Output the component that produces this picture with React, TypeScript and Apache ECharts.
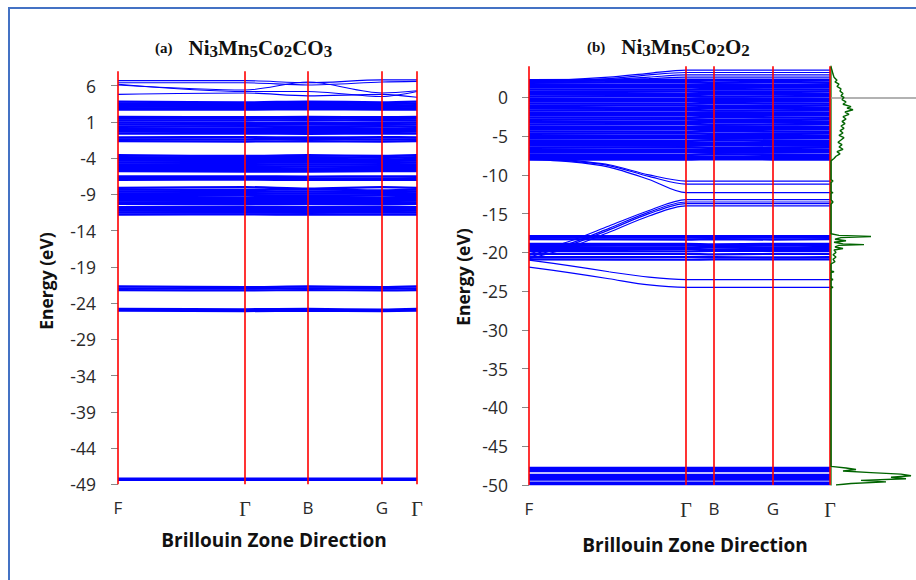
import React, { useEffect, useRef } from "react";
import * as echarts from "echarts";

// ---------- data ----------
const K_LABELS = ["F", "Γ", "B", "G", "Γ"];
const LEFT_K = [0, 127, 190, 264, 299];
const RIGHT_K = [0, 157, 185, 244, 301];
const RIGHT_K_FINE = [0, 40, 80, 120, 157, 185, 244, 301];
const LEFT_Y_TICKS = [-49, -44, -39, -34, -29, -24, -19, -14, -9, -4, 1, 6];
const RIGHT_Y_TICKS = [-50, -45, -40, -35, -30, -25, -20, -15, -10, -5, 0];
const LEFT_Y_RANGE = [-49, 8];
const RIGHT_Y_RANGE = [-50, 4];

// (a) Ni3Mn5Co2CO3 : energies at F, Γ, B, G, Γ
const leftUpperBands = [
  [6.7, 6.7, 6.4, 6.8, 6.8],
  [6.4, 6.4, 6.1, 6.5, 6.6],
  [6.1, 5.4, 6.5, 5.0, 5.3],
  [6.2, 5.2, 5.2, 4.5, 5.2],
  [4.8, 5.0, 4.6, 4.8, 4.4],
];
const leftValenceBands = [
  [3.8, 3.7, 3.8, 3.7, 3.8],
  [3.55, 3.5, 3.6, 3.45, 3.55],
  [3.3, 3.3, 3.35, 3.25, 3.3],
  [3.1, 3.05, 3.1, 3.05, 3.1],
  [2.9, 2.85, 2.9, 2.85, 2.9],
  [2.7, 2.7, 2.75, 2.7, 2.7],
  [1.7, 1.65, 1.7, 1.65, 1.7],
  [1.45, 1.45, 1.5, 1.4, 1.45],
  [1.2, 1.2, 1.25, 1.2, 1.2],
  [0.9, 0.85, 0.9, 0.85, 0.9],
  [0.65, 0.6, 0.65, 0.6, 0.65],
  [0.4, 0.4, 0.35, 0.4, 0.4],
  [0.15, 0.1, 0.15, 0.1, 0.15],
  [-0.1, -0.15, -0.1, -0.15, -0.1],
  [-0.35, -0.4, -0.35, -0.4, -0.35],
  [-0.6, -0.6, -0.65, -0.6, -0.6],
  [-1.15, -1.1, -1.15, -1.1, -1.15],
  [-1.4, -1.4, -1.35, -1.4, -1.4],
  [-1.65, -1.7, -1.65, -1.7, -1.65],
];
const leftMidBands = [
  [-3.6, -3.7, -3.6, -3.7, -3.6],
  [-3.85, -3.9, -3.85, -3.95, -3.85],
  [-4.1, -4.15, -4.1, -4.2, -4.1],
  [-4.35, -4.4, -4.35, -4.4, -4.35],
  [-4.6, -4.65, -4.6, -4.65, -4.6],
  [-4.85, -4.9, -4.85, -4.9, -4.85],
  [-5.1, -5.1, -5.15, -5.1, -5.1],
  [-5.35, -5.35, -5.4, -5.35, -5.35],
  [-5.6, -5.6, -5.65, -5.6, -5.6],
  [-5.8, -5.85, -5.85, -5.8, -5.8],
  [-6.5, -6.5, -6.55, -6.5, -6.5],
  [-6.75, -6.7, -6.75, -6.8, -6.75],
  [-7.0, -6.95, -7.0, -7.0, -7.0],
];
const leftLowBands = [
  [-8.1, -8.0, -8.2, -8.0, -8.1],
  [-8.35, -8.4, -8.3, -8.45, -8.35],
  [-8.6, -8.65, -8.6, -8.7, -8.6],
  [-8.85, -8.9, -8.85, -8.9, -8.85],
  [-9.1, -9.1, -9.15, -9.1, -9.1],
  [-9.35, -9.4, -9.35, -9.4, -9.35],
  [-9.6, -9.6, -9.65, -9.6, -9.6],
  [-9.85, -9.9, -9.85, -9.9, -9.85],
  [-10.1, -10.1, -10.15, -10.1, -10.1],
  [-10.3, -10.35, -10.3, -10.35, -10.3],
  [-10.75, -10.7, -10.75, -10.7, -10.75],
  [-11.0, -11.0, -11.05, -11.0, -11.0],
  [-11.25, -11.3, -11.25, -11.3, -11.25],
  [-11.5, -11.5, -11.55, -11.5, -11.5],
  [-11.8, -11.75, -11.8, -11.8, -11.8],
];
const leftDeepBands = [
  [-21.7, -21.8, -21.7, -21.8, -21.7],
  [-21.95, -22.0, -21.95, -22.0, -21.95],
  [-22.2, -22.25, -22.2, -22.25, -22.2],
  [-24.8, -24.85, -24.8, -24.9, -24.8],
  [-25.05, -25.1, -25.05, -25.1, -25.05],
  [-48.2, -48.2, -48.2, -48.2, -48.2],
  [-48.4, -48.4, -48.4, -48.4, -48.4],
];

// (b) Ni3Mn5Co2O2 : energies at F, Γ, B, G, Γ
const rightValenceBands = [
  [2.2, 2.25, 2.25, 2.25, 2.25],
  [1.9, 1.95, 1.9, 1.95, 1.9],
  [1.6, 1.6, 1.65, 1.6, 1.6],
  [1.3, 1.35, 1.3, 1.3, 1.35],
  [1.0, 1.0, 1.05, 1.0, 1.0],
  [0.7, 0.75, 0.7, 0.7, 0.75],
  [0.4, 0.4, 0.45, 0.4, 0.4],
  [0.1, 0.15, 0.1, 0.1, 0.15],
  [-0.2, -0.2, -0.15, -0.2, -0.2],
  [-0.5, -0.45, -0.5, -0.5, -0.45],
  [-0.8, -0.8, -0.75, -0.8, -0.8],
  [-1.1, -1.05, -1.1, -1.1, -1.05],
  [-1.4, -1.4, -1.35, -1.4, -1.4],
  [-1.7, -1.65, -1.7, -1.7, -1.65],
  [-2.0, -2.0, -1.95, -2.0, -2.0],
  [-2.3, -2.25, -2.3, -2.3, -2.25],
  [-2.6, -2.6, -2.55, -2.6, -2.6],
  [-2.9, -2.85, -2.9, -2.9, -2.85],
  [-3.2, -3.2, -3.15, -3.2, -3.2],
  [-3.5, -3.45, -3.5, -3.5, -3.45],
  [-3.8, -3.8, -3.75, -3.8, -3.8],
  [-4.1, -4.05, -4.1, -4.1, -4.05],
  [-4.4, -4.4, -4.35, -4.4, -4.4],
  [-4.7, -4.65, -4.7, -4.7, -4.65],
  [-5.0, -5.0, -4.95, -5.0, -5.0],
  [-5.3, -5.25, -5.3, -5.3, -5.25],
  [-5.6, -5.6, -5.55, -5.6, -5.6],
  [-5.9, -5.85, -5.9, -5.9, -5.85],
  [-6.2, -6.2, -6.15, -6.2, -6.2],
  [-6.5, -6.45, -6.5, -6.5, -6.45],
  [-6.8, -6.8, -6.75, -6.8, -6.8],
  [-7.1, -7.05, -7.1, -7.1, -7.05],
  [-7.4, -7.4, -7.35, -7.4, -7.4],
  [-7.7, -7.65, -7.7, -7.7, -7.65],
  [-8.0, -8.0, -7.95, -8.0, -8.0],
];
const rightMidBands = [
  [-17.9, -17.9, -17.9, -17.9, -17.9],
  [-18.1, -18.1, -18.1, -18.1, -18.1],
  [-18.3, -18.35, -18.3, -18.35, -18.3],
  [-18.9, -18.9, -18.95, -18.9, -18.9],
  [-19.1, -19.1, -19.1, -19.1, -19.1],
  [-19.3, -19.35, -19.3, -19.35, -19.3],
  [-19.55, -19.55, -19.6, -19.55, -19.55],
  [-19.8, -19.85, -19.8, -19.8, -19.8],
  [-20.2, -20.2, -20.25, -20.2, -20.2],
  [-20.6, -20.6, -20.6, -20.65, -20.6],
  [-20.9, -20.95, -20.9, -20.9, -20.9],
];
const rightCoreBands = [
  [-47.8, -47.8, -47.8, -47.8, -47.8],
  [-48.0, -48.0, -48.0, -48.0, -48.0],
  [-48.2, -48.2, -48.2, -48.2, -48.2],
  [-48.7, -48.7, -48.7, -48.7, -48.7],
  [-48.9, -48.9, -48.9, -48.9, -48.9],
  [-49.1, -49.1, -49.1, -49.1, -49.1],
  [-49.3, -49.3, -49.3, -49.3, -49.3],
  [-49.7, -49.7, -49.7, -49.7, -49.7],
  [-49.9, -49.9, -49.9, -49.9, -49.9],
];
// dispersive bands at the finer k grid
const rightDispersiveBands = [
  [2.2, 2.3, 2.6, 3.1, 3.5, 3.5, 3.5, 3.5],
  [2.1, 2.2, 2.4, 2.9, 3.2, 3.2, 3.2, 3.2],
  [2.0, 2.1, 2.3, 2.6, 2.9, 2.9, 2.9, 2.9],
  [1.9, 2.0, 2.2, 2.4, 2.6, 2.6, 2.6, 2.6],
  [-7.8, -8.1, -8.7, -10.0, -10.8, -10.8, -10.8, -10.8],
  [-7.9, -8.2, -8.8, -10.2, -11.2, -11.2, -11.2, -11.2],
  [-8.0, -8.3, -9.0, -10.6, -12.3, -12.3, -12.3, -12.3],
  [-20.2, -18.6, -16.6, -14.6, -13.2, -13.2, -13.2, -13.2],
  [-20.4, -18.9, -16.9, -14.8, -13.5, -13.5, -13.5, -13.5],
  [-20.6, -19.1, -17.1, -15.0, -13.7, -13.7, -13.7, -13.7],
  [-20.8, -19.4, -17.4, -15.3, -14.0, -14.0, -14.0, -14.0],
  [-21.0, -21.7, -22.5, -23.2, -23.5, -23.5, -23.5, -23.5],
  [-21.9, -22.6, -23.4, -24.2, -24.5, -24.5, -24.5, -24.5],
];

// density of states: [energy, DOS]
const dosCurve = [
  [3.9, 0], [3.5, 1], [3.0, 2], [2.6, 3], [2.2, 6], [2.0, 4], [1.7, 8], [1.4, 6],
  [1.1, 10], [0.8, 9], [0.5, 12], [0.2, 10], [0.0, 13], [-0.3, 11], [-0.6, 15],
  [-0.9, 12], [-1.2, 20], [-1.4, 16], [-1.6, 22], [-1.9, 14], [-2.2, 18], [-2.5, 12],
  [-2.8, 15], [-3.1, 11], [-3.4, 14], [-3.7, 10], [-4.0, 13], [-4.3, 9], [-4.6, 12],
  [-4.9, 8], [-5.2, 13], [-5.5, 10], [-5.8, 7], [-6.1, 11], [-6.4, 8], [-6.7, 12],
  [-7.0, 6], [-7.3, 9], [-7.6, 5], [-7.9, 3], [-8.2, 0],
  [-10.6, 0], [-10.8, 2], [-11.0, 0], [-12.2, 0], [-12.3, 2], [-12.4, 0],
  [-13.2, 0], [-13.5, 2], [-13.8, 0],
  [-17.6, 0], [-17.8, 8], [-17.95, 40], [-18.1, 10], [-18.3, 4], [-18.5, 15],
  [-18.7, 3], [-18.9, 12], [-19.0, 33], [-19.1, 8], [-19.3, 4], [-19.5, 12],
  [-19.7, 3], [-20.0, 5], [-20.3, 2], [-20.6, 5], [-20.9, 2], [-21.2, 4], [-21.5, 0],
  [-22.4, 0], [-22.5, 3], [-22.6, 0], [-23.4, 0], [-23.5, 2], [-23.6, 0],
  [-24.4, 0], [-24.5, 2], [-24.6, 0],
  [-47.6, 0], [-47.8, 15], [-48.0, 25], [-48.2, 12], [-48.4, 40], [-48.6, 70],
  [-48.8, 80], [-49.0, 60], [-49.2, 75], [-49.4, 30], [-49.6, 55], [-49.8, 20], [-50.0, 5],
];

// ---------- styles ----------
const SANS = '"Open Sans", "DejaVu Sans", sans-serif';
const SERIF = '"Liberation Serif", "DejaVu Serif", serif';
const BLUE = "#0000FF";
const RED = "#FF0000";

function bandSeries(rows: number[][], ks: number[], axis: number, width: number) {
  return rows.map((r) => ({
    type: "line",
    xAxisIndex: axis,
    yAxisIndex: axis,
    data: r.map((e, i) => [ks[i], e]),
    showSymbol: false,
    smooth: 0.3,
    silent: true,
    lineStyle: { color: BLUE, width },
    z: 2,
  }));
}

function redLines(ks: number[], axis: number, range: number[]) {
  return ks.map((k) => ({
    type: "line",
    xAxisIndex: axis,
    yAxisIndex: axis,
    data: [[k, range[0]], [k, range[1]]],
    showSymbol: false,
    silent: true,
    lineStyle: { color: RED, width: 1.6 },
    z: 3,
  }));
}

function kLabelFormatter(ks: number[]) {
  return (v: number) => {
    let idx = 0;
    let best = Infinity;
    ks.forEach((k, i) => {
      if (Math.abs(k - v) < best) {
        best = Math.abs(k - v);
        idx = i;
      }
    });
    const l = K_LABELS[idx];
    return l === "Γ" ? "{g|Γ}" : "{s|" + l + "}";
  };
}

const kRich = {
  s: { fontFamily: SANS, fontSize: 17, color: "#2a2a2a" },
  g: { fontFamily: SERIF, fontSize: 20, color: "#2a2a2a" },
};

function xBand(axis: number, ks: number[]) {
  return {
    gridIndex: axis,
    type: "value",
    min: 0,
    max: ks[ks.length - 1],
    axisLine: { show: false },
    axisTick: { show: false },
    splitLine: { show: false },
    axisLabel: {
      customValues: ks,
      formatter: kLabelFormatter(ks),
      margin: 15,
      rich: kRich,
    },
  };
}

function yBand(axis: number, range: number[], ticks: number[], margin: number) {
  return {
    gridIndex: axis,
    type: "value",
    min: range[0],
    max: range[1],
    axisLine: { show: false },
    axisTick: { show: true, customValues: ticks, length: 7, lineStyle: { color: "#888", width: 1 } },
    axisLabel: { customValues: ticks, margin, fontSize: 17.5, color: "#2a2a2a", fontFamily: SANS },
    splitLine: { show: false },
  };
}

const titleRich = {
  p: { fontFamily: SERIF, fontWeight: "bold", fontSize: 15, color: "#111", lineHeight: 24, verticalAlign: "middle", padding: [0, 16, 0, 0] },
  n: { fontFamily: SERIF, fontWeight: "bold", fontSize: 21, color: "#111", lineHeight: 24, verticalAlign: "middle" },
  s: { fontFamily: SERIF, fontWeight: "bold", fontSize: 17, color: "#111", lineHeight: 24, verticalAlign: "bottom" },
};

export default function App() {
  const ref = useRef<HTMLDivElement>(null);
  useEffect(() => {
    if (!ref.current) return;
    const chart = echarts.init(ref.current, undefined, { renderer: "svg" });
    const series: any[] = [
      ...bandSeries(leftUpperBands, LEFT_K, 0, 1.1),
      ...bandSeries(leftValenceBands, LEFT_K, 0, 2.3),
      ...bandSeries(leftMidBands, LEFT_K, 0, 2.3),
      ...bandSeries(leftLowBands, LEFT_K, 0, 2.3),
      ...bandSeries(leftDeepBands, LEFT_K, 0, 2.2),
      ...redLines(LEFT_K, 0, LEFT_Y_RANGE),
      ...bandSeries(rightValenceBands, RIGHT_K, 1, 2.6),
      ...bandSeries(rightMidBands, RIGHT_K, 1, 2.2),
      ...bandSeries(rightCoreBands, RIGHT_K, 1, 2.2),
      ...bandSeries(rightDispersiveBands, RIGHT_K_FINE, 1, 1.2),
      ...redLines(RIGHT_K, 1, RIGHT_Y_RANGE),
      {
        type: "line",
        xAxisIndex: 2,
        yAxisIndex: 2,
        data: dosCurve.map((p) => [p[1], p[0]]),
        showSymbol: false,
        silent: true,
        lineStyle: { color: "#006400", width: 1.4 },
        z: 4,
      },
    ];
    chart.setOption({
      animation: false,
      backgroundColor: "#ffffff",
      title: [
        {
          text: "{p|(a)}{n|Ni}{s|3}{n|Mn}{s|5}{n|Co}{s|2}{n|CO}{s|3}",
          left: 155,
          top: 36,
          padding: 0,
          textStyle: { rich: titleRich },
        },
        {
          text: "{p|(b)}{n|Ni}{s|3}{n|Mn}{s|5}{n|Co}{s|2}{n|O}{s|2}",
          left: 587,
          top: 35,
          padding: 0,
          textStyle: { rich: titleRich },
        },
      ],
      grid: [
        { left: 118, top: 71.2, width: 299, height: 413.1 },
        { left: 529, top: 66.3, width: 301, height: 418.7 },
        { left: 831, top: 66.3, width: 85, height: 418.7 },
      ],
      xAxis: [
        xBand(0, LEFT_K),
        xBand(1, RIGHT_K),
        {
          gridIndex: 2,
          type: "value",
          min: 0,
          max: 85,
          axisLine: { show: true, onZero: true, lineStyle: { color: "#999", width: 1.5 } },
          axisTick: { show: false },
          axisLabel: { show: false },
          splitLine: { show: false },
        },
      ],
      yAxis: [
        yBand(0, LEFT_Y_RANGE, LEFT_Y_TICKS, 22),
        yBand(1, RIGHT_Y_RANGE, RIGHT_Y_TICKS, 21),
        {
          gridIndex: 2,
          type: "value",
          min: RIGHT_Y_RANGE[0],
          max: RIGHT_Y_RANGE[1],
          axisLine: { show: true, lineStyle: { color: "#2E8B2E", width: 1.5 } },
          axisTick: { show: false },
          axisLabel: { show: false },
          splitLine: { show: false },
        },
      ],
      graphic: [
        {
          type: "rect",
          silent: true,
          z: 100,
          shape: { x: 9, y: 8, width: 1000, height: 1000 },
          style: { fill: "none", stroke: "#4472C4", lineWidth: 2 },
        },
        {
          type: "text",
          x: 46,
          y: 281,
          rotation: Math.PI / 2,
          style: { text: "Energy (eV)", font: `bold 17.5px ${SANS}`, fill: "#111", align: "center", verticalAlign: "middle" },
        },
        {
          type: "text",
          x: 463,
          y: 277,
          rotation: Math.PI / 2,
          style: { text: "Energy (eV)", font: `bold 17.5px ${SANS}`, fill: "#111", align: "center", verticalAlign: "middle" },
        },
        {
          type: "text",
          x: 274,
          y: 540,
          style: { text: "Brillouin Zone Direction", font: `bold 19px ${SANS}`, fill: "#111", align: "center", verticalAlign: "middle" },
        },
        {
          type: "text",
          x: 695,
          y: 545,
          style: { text: "Brillouin Zone Direction", font: `bold 19px ${SANS}`, fill: "#111", align: "center", verticalAlign: "middle" },
        },
      ],
      series,
    });
    return () => chart.dispose();
  }, []);
  return (
    <div
      ref={ref}
      style={{ position: "fixed", left: 0, top: 0, width: 916, height: 580, background: "#fff" }}
    />
  );
}
